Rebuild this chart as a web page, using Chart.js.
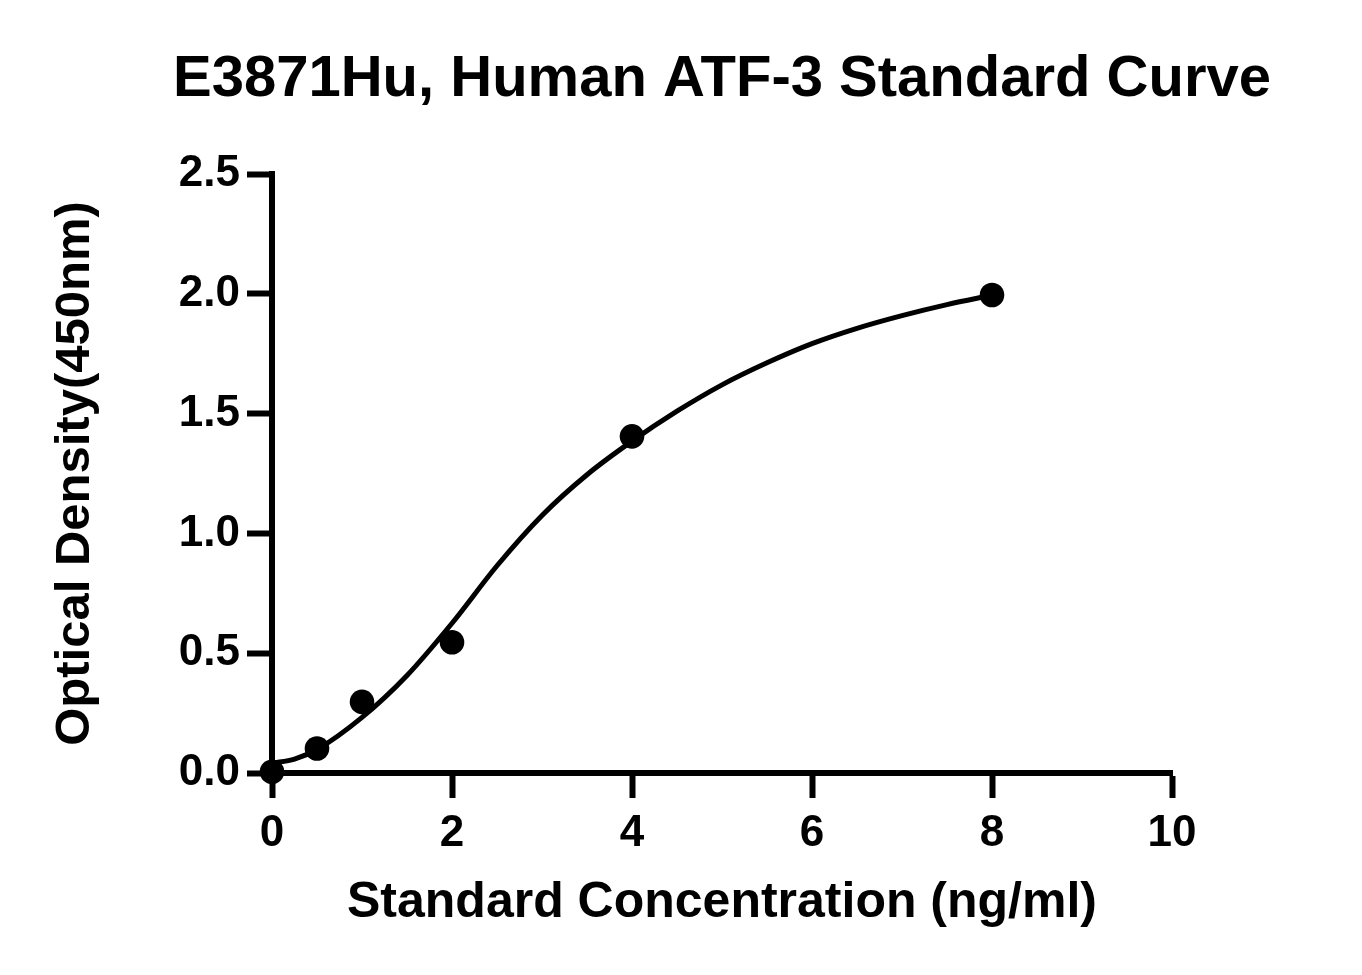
<!DOCTYPE html>
<html>
<head>
<meta charset="utf-8">
<script src="https://cdn.jsdelivr.net/npm/chart.js@4.4.1/dist/chart.umd.min.js"></script>
<style>
  html, body { margin: 0; padding: 0; background: #fff; }
  #wrap { width: 1362px; height: 975px; }
</style>
</head>
<body>
<div id="wrap"><canvas id="c" width="1362" height="975"></canvas></div>
<script>
// ---- Data ----
const chartTitle = 'E3871Hu, Human ATF-3 Standard Curve';
const xAxisTitle = 'Standard Concentration (ng/ml)';
const yAxisTitle = 'Optical Density(450nm)';

// measured standards
const stdConc = [0, 0.5, 1, 2, 4, 8];
const stdOD   = [0.005, 0.102, 0.297, 0.546, 1.405, 1.995];

// fitted curve, points
const curveX = [0, 0.25, 0.5, 1, 1.5, 2, 2.5, 3, 3.5, 4, 4.5, 5, 5.5, 6, 6.5, 7, 7.5, 8];
const curveY = [0.041, 0.058, 0.098, 0.232, 0.407, 0.625, 0.865, 1.075, 1.245, 1.385, 1.51, 1.62, 1.712, 1.792, 1.856, 1.909, 1.955, 1.994];

// tick labels
const xTickValues = [0, 2, 4, 6, 8, 10];
const yTickValues = [0, 0.5, 1.0, 1.5, 2.0, 2.5];
const yTickLabels = ['0.0', '0.5', '1.0', '1.5', '2.0', '2.5'];

const FONT = "'Liberation Sans', Arial, Helvetica, sans-serif";

const titlePlugin = {
  id: 'centeredTitle',
  afterDraw(chart) {
    const ctx = chart.ctx;
    const ca = chart.chartArea;
    ctx.save();
    ctx.fillStyle = '#000';
    ctx.font = 'bold 58px ' + FONT;
    ctx.textAlign = 'center';
    ctx.textBaseline = 'alphabetic';
    ctx.fillText(chartTitle, (ca.left + ca.right) / 2, 96);
    ctx.restore();
  }
};

new Chart(document.getElementById('c'), {
  type: 'scatter',
  data: {
    datasets: [
      {
        label: 'Fit',
        data: curveX.map((x, i) => ({ x: x, y: curveY[i] })),
        showLine: true,
        borderColor: '#000',
        borderWidth: 5,
        pointRadius: 0,
        cubicInterpolationMode: 'monotone',
        fill: false,
        clip: false,
        order: 2
      },
      {
        label: 'Standards',
        data: stdConc.map((x, i) => ({ x: x, y: stdOD[i] })),
        showLine: false,
        pointRadius: 12.3,
        pointHoverRadius: 12.3,
        pointBackgroundColor: '#000',
        pointBorderWidth: 0,
        clip: false,
        order: 1
      }
    ]
  },
  options: {
    responsive: false,
    animation: false,
    devicePixelRatio: 1,
    layout: { padding: { top: 174, right: 190, left: 0, bottom: 0 } },
    plugins: {
      legend: { display: false },
      tooltip: { enabled: false },
      title: { display: false }
    },
    scales: {
      x: {
        type: 'linear',
        min: 0, max: 10,
        afterFit: (s) => { s.height = 202; },
        afterBuildTicks: (s) => { s.ticks = xTickValues.map(v => ({ value: v })); },
        grid: { drawOnChartArea: false, drawTicks: true, tickLength: 25, tickWidth: 6, tickColor: '#000' },
        border: { display: true, color: '#000', width: 6 },
        ticks: {
          color: '#000', padding: 9, maxRotation: 0,
          font: { family: FONT, size: 44, weight: 'bold' },
          callback: (v) => String(v)
        },
        title: {
          display: true, text: xAxisTitle, color: '#000',
          font: { family: FONT, size: 50, weight: 'bold' },
          padding: { top: 0, bottom: 42 }
        }
      },
      y: {
        type: 'linear',
        min: 0, max: 2.5,
        afterFit: (s) => { s.width = 272; },
        afterBuildTicks: (s) => { s.ticks = yTickValues.map(v => ({ value: v })); },
        grid: { drawOnChartArea: false, drawTicks: true, tickLength: 25, tickWidth: 6, tickColor: '#000' },
        border: { display: true, color: '#000', width: 6 },
        ticks: {
          color: '#000', padding: 7,
          font: { family: FONT, size: 44, weight: 'bold' },
          callback: (v) => { const i = yTickValues.indexOf(v); return i >= 0 ? yTickLabels[i] : ''; }
        },
        title: {
          display: true, text: yAxisTitle, color: '#000',
          font: { family: FONT, size: 49, weight: 'bold' },
          padding: { top: 46, bottom: 0 }
        }
      }
    }
  },
  plugins: [titlePlugin]
});
</script>
</body>
</html>
